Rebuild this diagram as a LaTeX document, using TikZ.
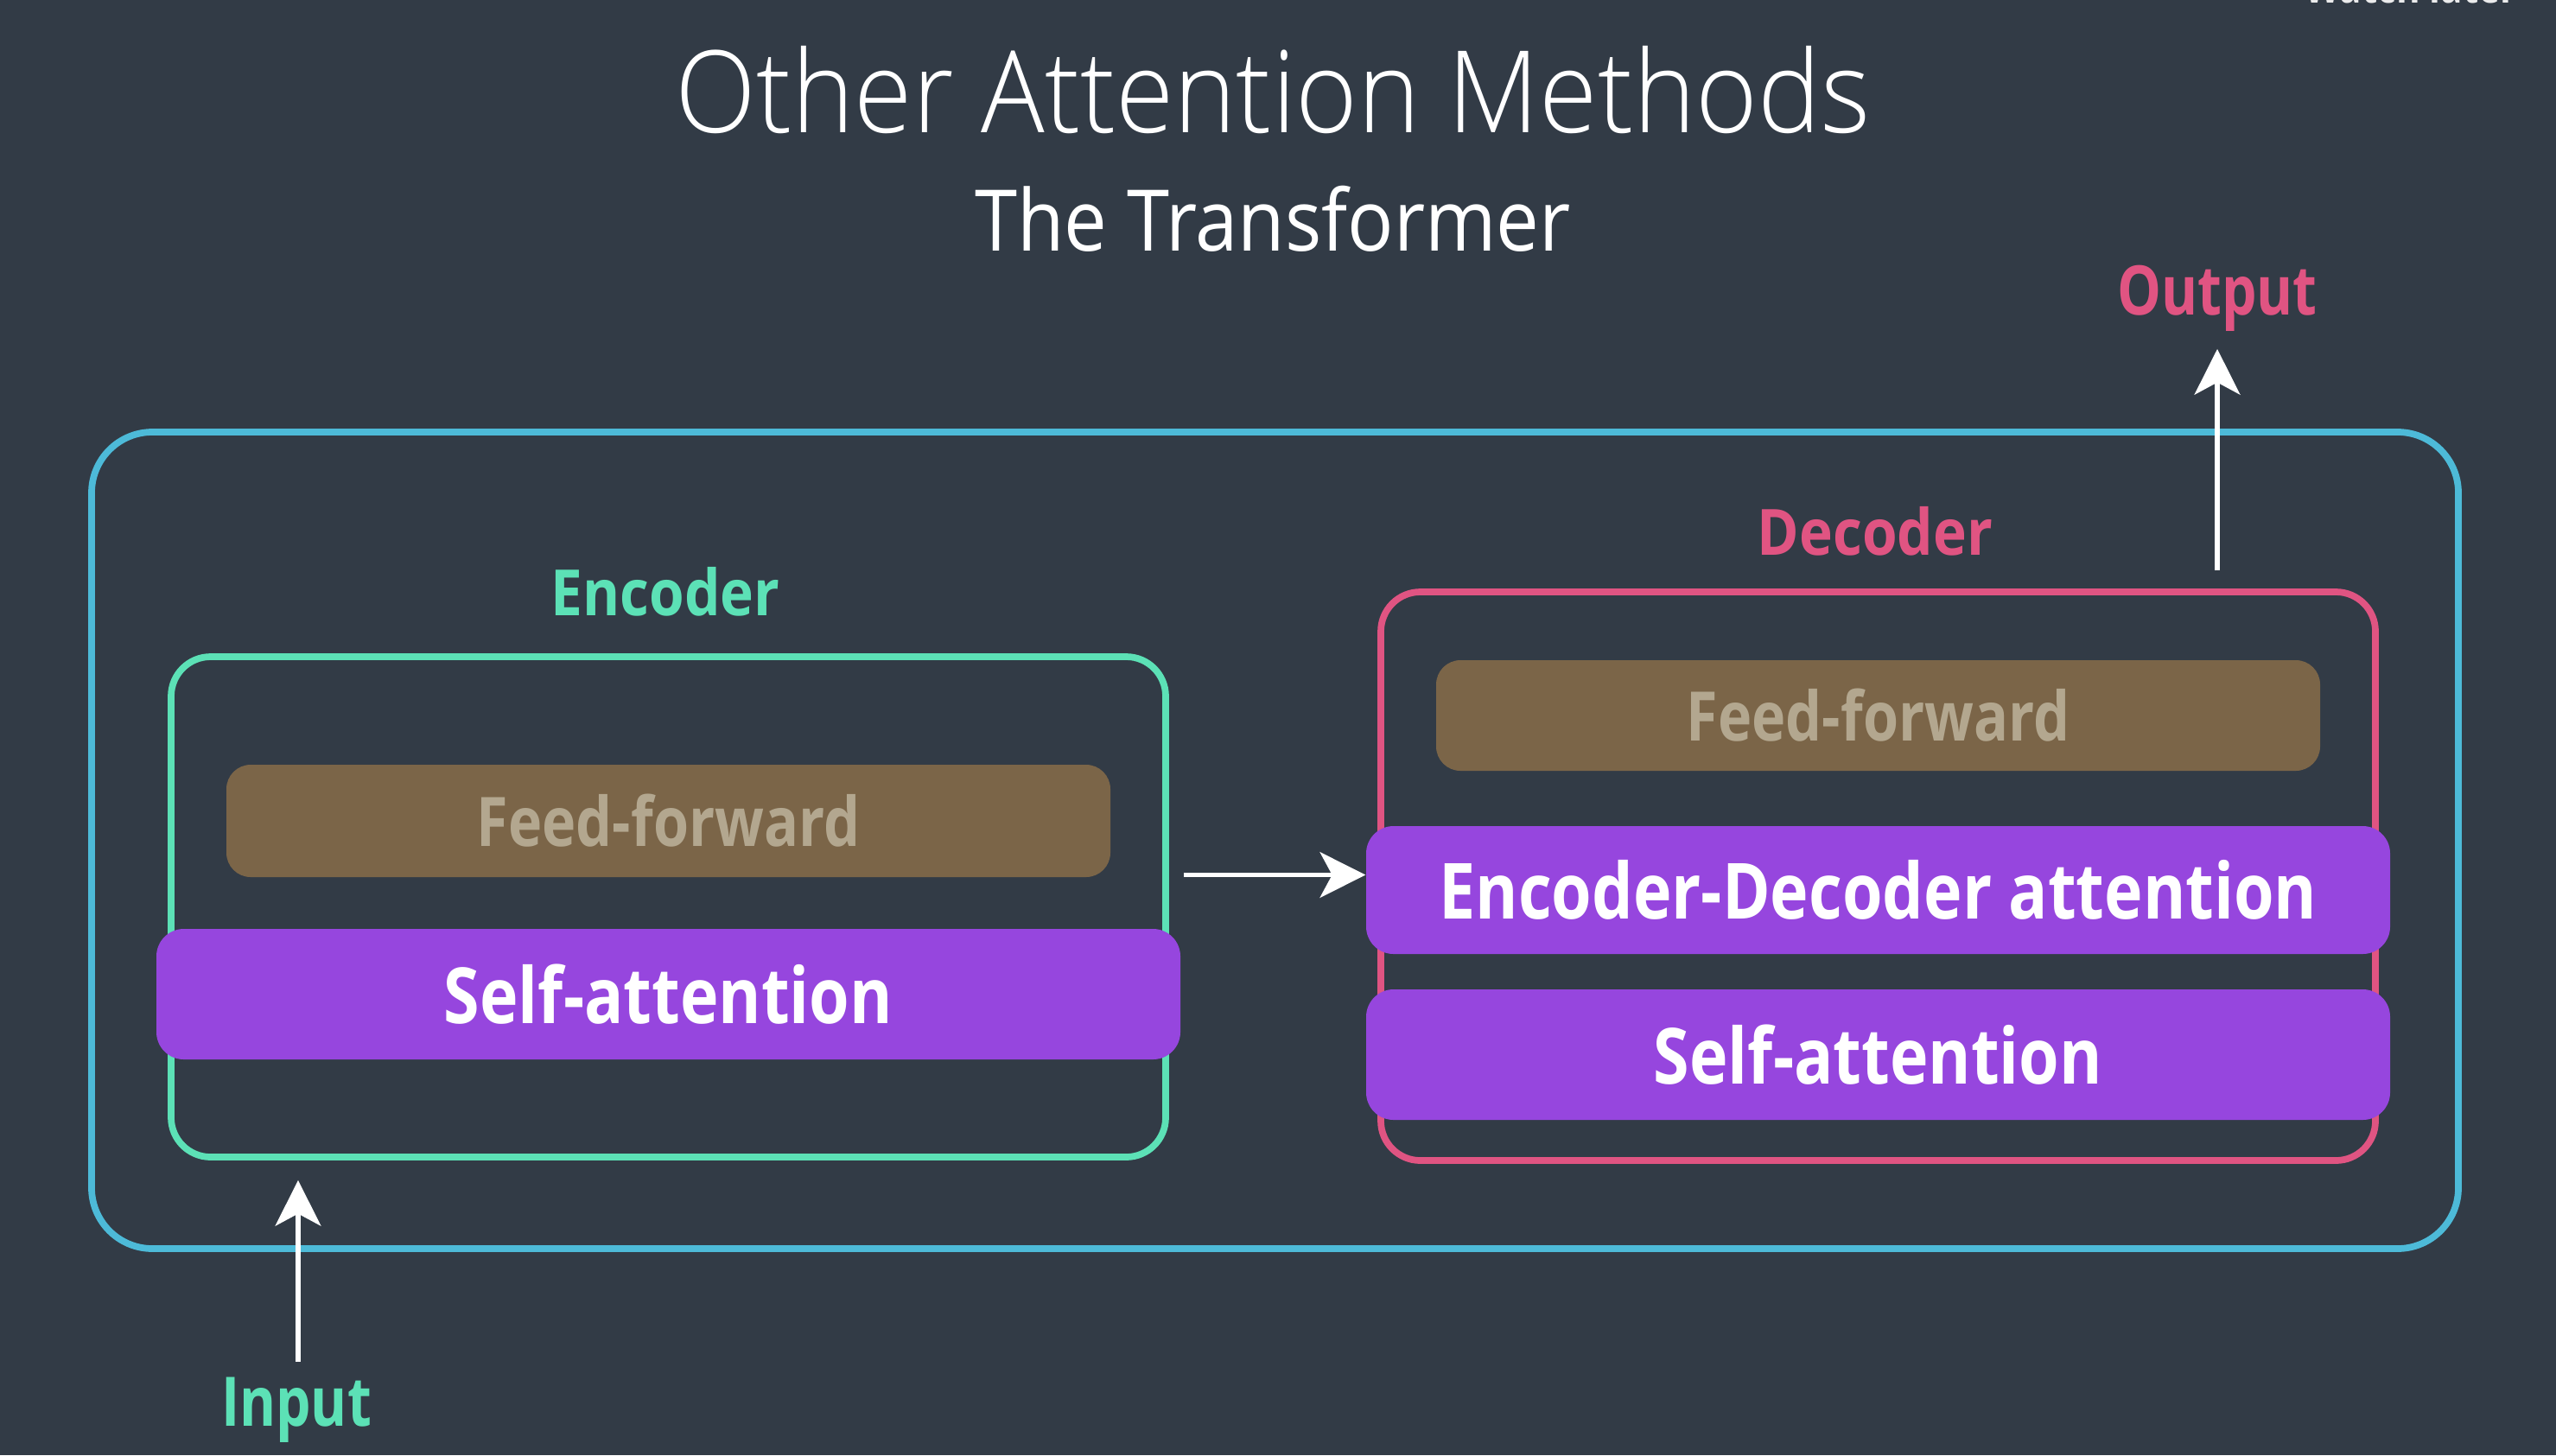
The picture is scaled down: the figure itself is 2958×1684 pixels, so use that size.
\documentclass[tikz,border=0pt]{standalone}
\usepackage{fontspec}
\setmainfont{Open Sans}[FakeStretch=0.9]
\newfontfamily\lightfont{Open Sans Light}[FakeStretch=0.93]
\newfontfamily\semifontfam{Open Sans}[FakeStretch=0.84]
\newfontfamily\semilabelfam{Open Sans}[FakeStretch=0.89]
\newfontfamily\semiiofam{Open Sans}[FakeStretch=0.81]
\newcommand\semifont{\semifontfam\bfseries}
\newcommand\semilabel{\semilabelfam\bfseries}
\newcommand\semiio{\semiiofam\bfseries}
\usetikzlibrary{arrows.meta,calc}

\definecolor{bg}{HTML}{323B46}
\definecolor{outerblue}{HTML}{4DBAD8}
\definecolor{encgreen}{HTML}{5CE1B6}
\definecolor{decpink}{HTML}{E05482}
\definecolor{attnpurple}{HTML}{9646DE}
\definecolor{ffbrown}{HTML}{7B6548}
\definecolor{fftext}{HTML}{B3A78F}

\tikzset{
  frame/.style={draw, line width=2.2pt, rounded corners=#1, inner sep=0pt},
  ffbox/.style={fill=ffbrown, rounded corners=8pt, inner sep=0pt,
    text=fftext, font=\semifont\fontsize{22.5}{26}\selectfont},
  attnbox/.style={fill=attnpurple, rounded corners=9pt, inner sep=0pt,
    text=white, font=\semifont\fontsize{25.5}{30}\selectfont},
  arr/.style={draw=white, line width=1.5pt,
    -{Stealth[length=15pt, width=15pt, inset=4pt]}},
  lbl/.style={font=\semilabel\fontsize{21}{25}\selectfont, inner sep=0pt},
  iolbl/.style={font=\semiio\fontsize{22.5}{26}\selectfont, inner sep=0pt},
}

\begin{document}
\begin{tikzpicture}[x=0.01cm, y=-0.01cm]
  % canvas
  \clip (0,0) rectangle (2958,1684);
  \fill[bg] (0,0) rectangle (2958,1684);

  % corner overlay text
  \node[anchor=base west, inner sep=0pt, text=white!90!bg,
        font=\semiio\fontsize{14.8}{18}\selectfont] (wl) at (2667,3.5) {Watch later};

  % headings
  \node[text=white, font=\lightfont\fontsize{37.5}{44}\selectfont, inner sep=0pt]
    (title) at (1473,104) {Other Attention Methods};
  \node[text=white, font=\fontsize{28}{33}\selectfont, inner sep=0pt]
    (subtitle) at (1473,253) {The Transformer};

  % outer transformer frame
  \node[frame=20pt, draw=outerblue, minimum width=2739*0.01cm, minimum height=945*0.01cm]
    (outer) at (1475.5,972.5) {};

  % encoder
  \node[frame=13pt, draw=encgreen, minimum width=1151*0.01cm, minimum height=579*0.01cm]
    (enc) at (773.5,1049.5) {};
  \node[lbl, text=encgreen] (enclbl) at (770,685) {Encoder};
  \node[ffbox, minimum width=1023*0.01cm, minimum height=130*0.01cm]
    (encff) at (773.5,950) {Feed-forward};
  \node[attnbox, minimum width=1185*0.01cm, minimum height=151*0.01cm]
    (encsa) at (773.5,1150.5) {Self-attention};

  % decoder
  \node[frame=13pt, draw=decpink, minimum width=1151*0.01cm, minimum height=658*0.01cm]
    (dec) at (2173.5,1014) {};
  \node[lbl, text=decpink] (declbl) at (2170,615) {Decoder};
  \node[ffbox, minimum width=1023*0.01cm, minimum height=128*0.01cm]
    (decff) at (2173.5,828) {Feed-forward};
  \node[attnbox, minimum width=1185*0.01cm, minimum height=148*0.01cm]
    (eda) at (2173.5,1030) {Encoder-Decoder attention};
  \node[attnbox, minimum width=1185*0.01cm, minimum height=151*0.01cm]
    (decsa) at (2173.5,1220.5) {Self-attention};

  % input / output
  \node[iolbl, text=encgreen] (input) at (343,1632) {Input};
  \node[iolbl, text=decpink] (output) at (2566,345) {Output};

  % connectors
  \coordinate (inbase) at ($(input.north)+(2,-18)$);
  \draw[arr] (inbase) -- (inbase |- {$(enc.south)+(0,23)$});
  \coordinate (encout) at ($(enc.east)+(17,-37)$);
  \draw[arr] (encout) -- (eda.west |- encout);
  \coordinate (decout) at ($(dec.north)+(392.5,-21)$);
  \draw[arr] (decout) -- (decout |- {$(output.south)+(0,20)$});
\end{tikzpicture}
\end{document}
